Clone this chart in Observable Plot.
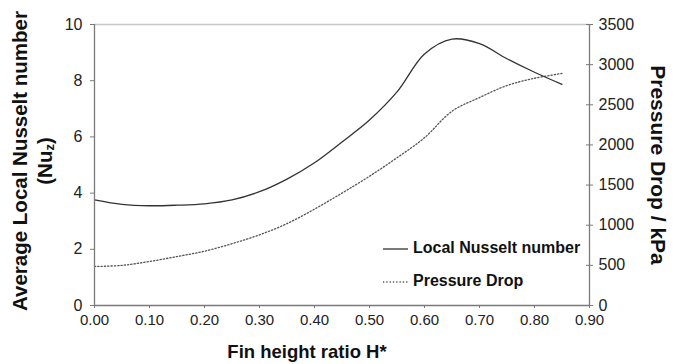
<!DOCTYPE html>
<html><head><meta charset="utf-8">
<script src="https://cdn.jsdelivr.net/npm/d3@7"></script>
<script src="https://cdn.jsdelivr.net/npm/@observablehq/plot@0.6"></script>
<style>
body{margin:0;background:#fff;font-family:"Liberation Sans",Arial,sans-serif;}
#chart{position:relative;width:685px;height:364px;}
#chart svg g[aria-label="x-axis tick label"]{font-size:15px;}
#chart svg g[aria-label="y-axis tick label"]{font-size:16px;}
</style></head><body><div id="chart"></div>
<script>
const finRatio = [0,0.05,0.10,0.15,0.20,0.25,0.30,0.35,0.40,0.45,0.50,0.55,0.60,0.65,0.70,0.75,0.80,0.85];
const nusselt  = [3.76,3.60,3.55,3.57,3.62,3.76,4.05,4.50,5.08,5.82,6.60,7.60,8.95,9.48,9.32,8.78,8.30,7.87];
const pressure = [486,500,548,610,676,770,880,1020,1200,1400,1610,1840,2090,2420,2590,2740,2830,2890];
const xTicks = [0,0.1,0.2,0.3,0.4,0.5,0.6,0.7,0.8,0.9];
const nuTicks = [0,2,4,6,8,10];
const pTicks = [0,500,1000,1500,2000,2500,3000,3500];
const legendLabels = ["Local Nusselt number","Pressure Drop"];

const pScale = 350; // kPa per Nu unit on the shared y scale
const nuData = finRatio.map((x,i)=>({x, y:nusselt[i]}));
const pData = finRatio.map((x,i)=>({x, y:pressure[i]/pScale}));

const axisColor = "#7a7a7a";
const font = "Liberation Sans, Arial, sans-serif";

const plot = Plot.plot({
  width:685, height:364,
  marginLeft:94, marginRight:96, marginTop:24, marginBottom:59,
  style:{fontFamily:font, color:"#222", background:"#fff"},
  x:{type:"linear", domain:[0,0.9]},
  y:{type:"linear", domain:[0,10]},
  marks:[
    Plot.ruleY([10],{stroke:"#c8c8c8", strokeWidth:1.5}),
    Plot.line(pData,{x:"x", y:"y", curve:"catmull-rom", stroke:"#555", strokeWidth:1.3, strokeDasharray:"1.3,2"}),
    Plot.line(nuData,{x:"x", y:"y", curve:"catmull-rom", stroke:"#333", strokeWidth:1.3}),
    Plot.ruleX([0],{stroke:axisColor, strokeWidth:1.3}),
    Plot.ruleX([0.9],{stroke:axisColor, strokeWidth:1.3}),
    Plot.ruleY([0],{stroke:axisColor, strokeWidth:1.3}),
    Plot.axisX({ticks:xTicks, tickFormat:d=>d.toFixed(2), tickSize:3, tickPadding:6, stroke:axisColor, fill:"#222", label:null}),
    Plot.axisY({ticks:nuTicks, tickFormat:d=>String(d), tickSize:4, tickPadding:8, stroke:axisColor, fill:"#222", label:null}),
    Plot.axisY({anchor:"right", ticks:pTicks.map(v=>v/pScale), tickFormat:d=>String(Math.round(d*pScale)), tickSize:3, tickPadding:6, stroke:axisColor, fill:"#222", label:null}),
    Plot.ruleY(pTicks.map(v=>v/pScale),{y:d=>d, x1:0.8945, x2:0.9, stroke:axisColor, strokeWidth:1})
  ]
});
const chart = document.getElementById("chart");
chart.appendChild(plot);

// titles and legend overlay
const svg = d3.select(plot);
const tf = 20.5;
svg.append("text").attr("transform","translate(22,161) rotate(-90)").attr("text-anchor","middle").attr("dominant-baseline","middle")
  .attr("font-family",font).attr("font-weight","bold").attr("font-size",tf).attr("fill","#111").text("Average Local Nusselt number");
const t2 = svg.append("text").attr("transform","translate(47,161) rotate(-90)").attr("text-anchor","middle").attr("dominant-baseline","middle")
  .attr("font-family",font).attr("font-weight","bold").attr("font-size",tf).attr("fill","#111");
t2.append("tspan").text("(Nu");
t2.append("tspan").attr("font-size",13).attr("dy",4).text("z");
t2.append("tspan").attr("dy",-4).text(")");
svg.append("text").attr("transform","translate(657,165) rotate(90)").attr("text-anchor","middle").attr("dominant-baseline","middle")
  .attr("font-family",font).attr("font-weight","bold").attr("font-size",21).attr("fill","#111").text("Pressure Drop / kPa");
svg.append("text").attr("x",307).attr("y",353).attr("text-anchor","middle").attr("dominant-baseline","middle")
  .attr("font-family",font).attr("font-weight","bold").attr("font-size",18.5).attr("fill","#111").text("Fin height ratio H*");

const leg = [{y:249, dash:null, color:"#333"},{y:282, dash:"1.3,2", color:"#555"}];
leg.forEach((l,i)=>{
  svg.append("line").attr("x1",383).attr("x2",408).attr("y1",l.y).attr("y2",l.y).attr("stroke",l.color).attr("stroke-width",1.3).attr("stroke-dasharray",l.dash);
  svg.append("text").attr("x",413).attr("y",l.y).attr("text-anchor","start").attr("dominant-baseline","middle").attr("font-family",font).attr("font-weight","bold").attr("font-size",16).attr("fill","#111").text(legendLabels[i]);
});
</script></body></html>
